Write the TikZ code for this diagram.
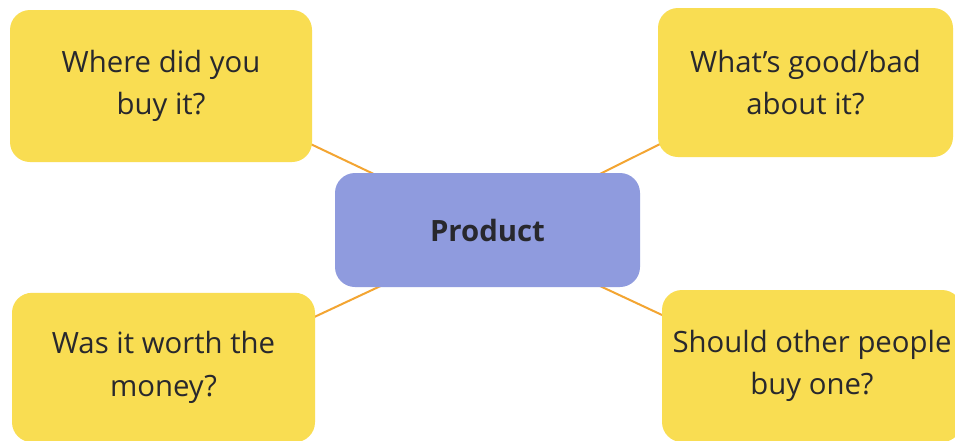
\documentclass[tikz,border=0pt]{standalone}
\usepackage{fontspec}
\setmainfont{Open Sans}
\usetikzlibrary{backgrounds,calc}
\definecolor{boxyellow}{RGB}{249,221,82}
\definecolor{boxblue}{RGB}{143,155,222}
\definecolor{linkorange}{RGB}{243,165,50}
\definecolor{txt}{RGB}{40,40,45}
\begin{document}
\begin{tikzpicture}[x={(0.75pt,0)},y={(0,-0.75pt)},
  qbox/.style={fill=boxyellow, rounded corners=15pt, align=center, text=txt,
    font=\fontsize{22}{32}\selectfont, inner sep=0pt},
  hub/.style={fill=boxblue, rounded corners=15pt, align=center, text=txt,
    font=\fontsize{22}{26}\selectfont\bfseries, inner sep=0pt,
    minimum width=228.75pt, minimum height=85.5pt},
  link/.style={draw=linkorange, line width=1.5pt}]
\useasboundingbox (0,0) rectangle (955,440);
\node[hub] (c) at (487.5,230) {Product};
\node[qbox, minimum width=226.5pt, minimum height=114pt] (tl) at (161,86) {Where did you\\buy it?};
\node[qbox, minimum width=221.25pt, minimum height=111.75pt] (tr) at (805.5,82.5) {What’s good/bad\\about it?};
\node[qbox, minimum width=227.25pt, minimum height=112pt] (bl) at (163.5,367.5) {Was it worth the\\money?};
\node[qbox, minimum width=225pt, minimum height=114pt] (br) at (812,366) {Should other people\\buy one?};
\begin{scope}[on background layer]
\fill[white] (0,0) rectangle (955,440);
\draw[link] ($(c.center)+(0,-2)$) -- ($(tl.center)+(0,-13)$);
\draw[link] (c.center) -- ($(tr.center)+(0,-11)$);
\draw[link] ($(c.center)+(0,6)$) -- ($(bl.center)+(0,20)$);
\draw[link] ($(c.center)+(0,3.5)$) -- ($(br.center)+(0,19)$);
\end{scope}
\end{tikzpicture}
\end{document}
